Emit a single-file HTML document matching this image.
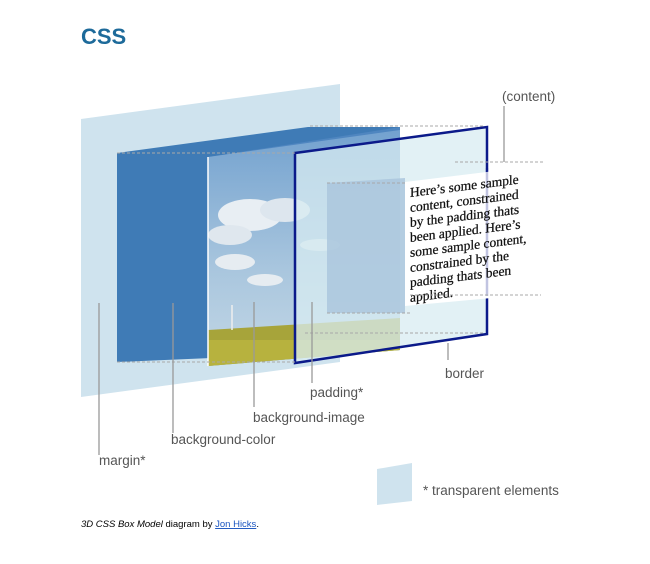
<!DOCTYPE html>
<html><head><meta charset="utf-8"><style>
body{margin:0;background:#fff;width:650px;height:559px;overflow:hidden;font-family:"Liberation Sans",sans-serif}
</style></head><body>
<svg width="650" height="559" viewBox="0 0 650 559" xmlns="http://www.w3.org/2000/svg">
<defs>
<linearGradient id="sky" x1="0" y1="0" x2="0" y2="1">
<stop offset="0" stop-color="#6f9fce"/><stop offset="0.6" stop-color="#a9c6de"/><stop offset="1" stop-color="#c4d8e6"/>
</linearGradient>
<clipPath id="imgc"><polygon points="208,157 400,130 400,350 208,366"/></clipPath>
</defs>
<text x="81" y="44" font-size="22" font-weight="bold" fill="#1d6a9a">CSS</text>
<polygon points="81,119 340,84 340,362 81,397" fill="#cfe3ee"/>
<polygon points="117,153 308,127 400,127 400,350 117,362" fill="#3f7bb6"/>
<polygon points="208,157 400,127 400,350 208,366" fill="#4f86c0"/>
<g clip-path="url(#imgc)">
<rect x="208" y="120" width="192" height="250" fill="url(#sky)"/>
<ellipse cx="250" cy="215" rx="32" ry="16" fill="#e8eef3"/>
<ellipse cx="230" cy="235" rx="22" ry="10" fill="#dfe7ee"/>
<ellipse cx="285" cy="210" rx="25" ry="12" fill="#dde6ee"/>
<ellipse cx="235" cy="262" rx="20" ry="8" fill="#e6ecf1"/>
<ellipse cx="265" cy="280" rx="18" ry="6" fill="#e6ecf1"/>
<ellipse cx="320" cy="245" rx="20" ry="6" fill="#d6e1ea"/>
<polygon points="208,330 400,318 400,370 208,370" fill="#a7a43a"/>
<rect x="208" y="340" width="192" height="30" fill="#bdb840" opacity="0.7"/>
<line x1="232" y1="305" x2="232" y2="330" stroke="#eee" stroke-width="1.5"/>
</g>
<line x1="208" y1="157" x2="208" y2="366" stroke="#fff" stroke-width="1.5"/>
<polygon points="295,153 487,127 487,334 295,363" fill="#d8ecf2" fill-opacity="0.75" stroke="#0b1a8a" stroke-width="2.5"/>
<polygon points="327,183 405,178 405,313 327,313" fill="#a9c4dc" opacity="0.8"/>
<polygon points="405,182 535,166 535,294 405,306" fill="#fff"/>
<line x1="487" y1="168" x2="487" y2="296" stroke="#0b1a8a" stroke-width="2.5" opacity="0.25"/>
<g transform="translate(410,0) skewY(-7) translate(-410,0)" font-family="'Liberation Serif',serif" font-size="13.5" fill="#111" stroke="#111" stroke-width="0.25">
<text x="410" y="197">Here’s some sample</text>
<text x="410" y="212">content, constrained</text>
<text x="410" y="227">by the padding thats</text>
<text x="410" y="242">been applied. Here’s</text>
<text x="410" y="257">some sample content,</text>
<text x="410" y="272">constrained by the</text>
<text x="410" y="287">padding thats been</text>
<text x="410" y="302">applied.</text>
</g>
<g stroke="#a8a8a8" stroke-width="1" stroke-dasharray="3,2" fill="none">
<line x1="310" y1="126" x2="485" y2="126"/>
<line x1="117" y1="153" x2="295" y2="153"/>
<line x1="455" y1="162" x2="543" y2="162"/>
<line x1="327" y1="183" x2="405" y2="183"/>
<line x1="410" y1="295" x2="541" y2="295"/>
<line x1="327" y1="313" x2="412" y2="313"/>
<line x1="305" y1="333" x2="485" y2="333"/>
<line x1="117" y1="362" x2="295" y2="362"/>
</g>
<g stroke="#999" stroke-width="1.3">
<line x1="99" y1="303" x2="99" y2="455"/>
<line x1="173" y1="303" x2="173" y2="433"/>
<line x1="254" y1="302" x2="254" y2="407"/>
<line x1="312" y1="302" x2="312" y2="383"/>
<line x1="448" y1="343" x2="448" y2="360"/>
<line x1="504" y1="106" x2="504" y2="162"/>
</g>
<g fill="#555" font-family="'Liberation Sans',sans-serif" font-size="13.5">
<text x="502" y="101">(content)</text>
<text x="445" y="378">border</text>
<text x="310" y="397">padding*</text>
<text x="253" y="422">background-image</text>
<text x="171" y="444">background-color</text>
<text x="99" y="465">margin*</text>
<text x="423" y="495">* transparent elements</text>
</g>
<polygon points="377,469 412,463 412,501 377,505" fill="#cfe3ee"/>
<text x="81" y="527" font-size="9.5" fill="#000"><tspan font-style="italic">3D CSS Box Model</tspan> diagram by <tspan fill="#1a55c0" text-decoration="underline">Jon Hicks</tspan>.</text>
</svg>
</body></html>
